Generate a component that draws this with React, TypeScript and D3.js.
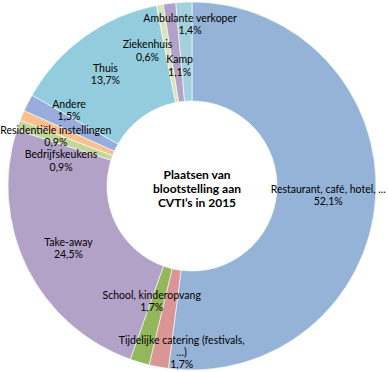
import { useEffect, useRef } from 'react';
import * as d3 from 'd3';

// Plaatsen van blootstelling aan CVTI's in 2015
const categories = [
  'Restaurant, café, hotel, ...',
  'Tijdelijke catering (festivals, ...)',
  'School, kinderopvang',
  'Take-away',
  'Bedrijfskeukens',
  'Residentiële instellingen',
  'Andere',
  'Thuis',
  'Ziekenhuis',
  'Kamp',
  'Ambulante verkoper',
];
const values = [52.1, 1.7, 1.7, 24.5, 0.9, 0.9, 1.5, 13.7, 0.6, 1.1, 1.4];
const valueLabels = ['52,1%', '1,7%', '1,7%', '24,5%', '0,9%', '0,9%', '1,5%', '13,7%', '0,6%', '1,1%', '1,4%'];
// how the category text wraps in the label
const labelLines = [
  ['Restaurant, café, hotel, ...'],
  ['Tijdelijke catering (festivals,', '...)'],
  ['School, kinderopvang'],
  ['Take-away'],
  ['Bedrijfskeukens'],
  ['Residentiële instellingen'],
  ['Andere'],
  ['Thuis'],
  ['Ziekenhuis'],
  ['Kamp'],
  ['Ambulante verkoper'],
];
const colors = [
  '#95B3D7', '#D99694', '#93B75A', '#B3A2C7', '#C3D69B', '#FAC090',
  '#98ADDC', '#93CDDD', '#D7E4BD', '#B3A2C7', '#A5D0DE',
];
// nudges from the ring centroid (best-fit placement of the small slices)
const labelShift: [number, number][] = [
  [2, 0], [14, 34], [-2, -14], [-3, 2], [-4, 19], [-12, 2],
  [-3, -15], [-8, -3], [-21, -3], [4, 13], [4, -28],
];
const title = ['Plaatsen van', 'blootstelling aan', 'CVTI’s in 2015'];

const width = 388;
const height = 372;

const App = () => {
  const ref = useRef<SVGSVGElement>(null);

  useEffect(() => {
    const svg = d3.select(ref.current);
    svg.selectAll('*').remove();

    const cx = 192;
    const cy = 186;
    const outer = 184;
    const inner = 85;

    const pie = d3.pie<number>().sort(null).value((d) => d);
    const arcs = pie(values);
    const arc = d3.arc<d3.PieArcDatum<number>>().innerRadius(inner).outerRadius(outer);

    const g = svg.append('g').attr('transform', 'translate(' + cx + ',' + cy + ')');

    g.selectAll('path')
      .data(arcs)
      .enter()
      .append('path')
      .attr('d', arc)
      .attr('fill', (d, i) => colors[i])
      .attr('stroke', '#fff')
      .attr('stroke-width', 0.6);

    const lineH = 12.2;
    arcs.forEach((a, i) => {
      const [x, y] = arc.centroid(a);
      const lines = [...labelLines[i], valueLabels[i]];
      const t = g.append('text')
        .attr('x', x + labelShift[i][0])
        .attr('y', y + labelShift[i][1] - ((lines.length - 1) * lineH) / 2)
        .attr('text-anchor', 'middle')
        .attr('dominant-baseline', 'central')
        .attr('font-family', 'Lato, "Open Sans", sans-serif')
        .attr('font-size', 10.5)
        .attr('fill', '#000');
      lines.forEach((l, k) => {
        t.append('tspan')
          .attr('x', x + labelShift[i][0])
          .attr('dy', k === 0 ? 0 : lineH)
          .text(l);
      });
    });

    const tt = g.append('text')
      .attr('x', 5)
      .attr('y', -12)
      .attr('text-anchor', 'middle')
      .attr('dominant-baseline', 'central')
      .attr('font-family', 'Lato, "Open Sans", sans-serif')
      .attr('font-weight', 'bold')
      .attr('font-size', 12)
      .attr('fill', '#000');
    title.forEach((l, k) => {
      tt.append('tspan').attr('x', 5).attr('dy', k === 0 ? 0 : 14).text(l);
    });
  }, []);

  return (
    <svg
      ref={ref}
      width={width}
      height={height}
      style={{ position: 'absolute', left: 0, top: 0, background: '#fff' }}
    />
  );
};

export default App;
